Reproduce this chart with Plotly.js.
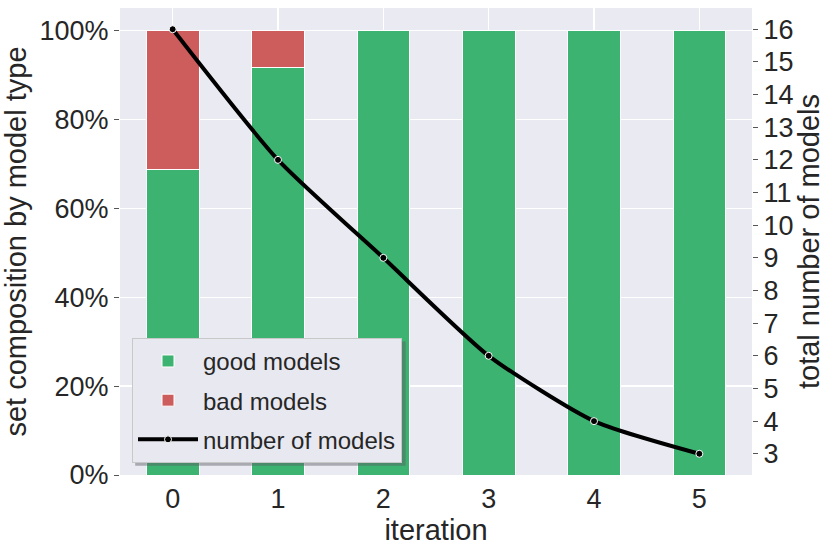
<!DOCTYPE html>
<html>
<head>
<meta charset="utf-8">
<script src="https://cdn.plot.ly/plotly-3.0.1.min.js"></script>
<style>
  html, body { margin: 0; padding: 0; background: #ffffff; }
  #plot { width: 831px; height: 557px; }
</style>
</head>
<body>
<div id="plot"></div>
<script>
// values
const iterations = [0, 1, 2, 3, 4, 5];
const goodPct = [68.75, 91.67, 100, 100, 100, 100];
const badPct = [31.25, 8.33, 0, 0, 0, 0];
const modelCount = [16, 12, 9, 6, 4, 3];
const pctTicks = [0, 20, 40, 60, 80, 100];
const pctLabels = ['0%', '20%', '40%', '60%', '80%', '100%'];
const countTicks = [3, 4, 5, 6, 7, 8, 9, 10, 11, 12, 13, 14, 15, 16];

const fontFamily = '"Liberation Sans", Arial, sans-serif';
const textColor = '#262626';

const traces = [
    {
        x: iterations, y: goodPct, type: 'bar', name: 'good models',
        legendgroup: 'good', width: 0.5,
        marker: { color: '#3cb371', line: { color: '#ffffff', width: 1 } },
        hoverinfo: 'skip'
    },
    {
        x: iterations, y: badPct, type: 'bar', name: 'bad models',
        legendgroup: 'bad', width: 0.5,
        marker: { color: '#cd5c5c', line: { color: '#ffffff', width: 1 } },
        hoverinfo: 'skip'
    },
    {
        x: iterations, y: modelCount, type: 'scatter', mode: 'lines+markers',
        name: 'number of models', legendgroup: 'count', yaxis: 'y2',
        line: { color: '#000000', width: 4, shape: 'spline', smoothing: 0.6 },
        marker: { color: '#000000', size: 7, line: { color: '#ffffff', width: 1 } },
        hoverinfo: 'skip'
    }
];

const layout = {
    width: 831,
    height: 557,
    paper_bgcolor: '#ffffff',
    plot_bgcolor: '#eaeaf2',
    font: { family: fontFamily, color: textColor, size: 27 },
    margin: { t: 8, r: 79, b: 82, l: 120 },
    barmode: 'stack',
    showlegend: true,
    xaxis: {
        range: [-0.5, 5.5],
        tickvals: iterations,
        ticktext: iterations.map(String),
        showgrid: true, gridcolor: '#ffffff', gridwidth: 1.2,
        zeroline: false, showline: false,
        ticks: '', ticklabelstandoff: 5,
        tickfont: { size: 27 },
        title: { text: 'iteration', font: { size: 29 }, standoff: 6 },
        automargin: false
    },
    yaxis: {
        range: [0, 105],
        tickvals: pctTicks,
        ticktext: pctLabels,
        showgrid: true, gridcolor: '#ffffff', gridwidth: 1.2,
        zeroline: false, showline: false,
        ticks: 'outside', ticklen: 5, tickwidth: 1, tickcolor: '#555555',
        tickfont: { size: 27 },
        title: { text: 'set composition by model type', font: { size: 29 }, standoff: 6 },
        automargin: false
    },
    yaxis2: {
        overlaying: 'y', side: 'right',
        range: [2.35, 16.65],
        tickvals: countTicks,
        showgrid: false, zeroline: false, showline: false,
        ticks: 'outside', ticklen: 5, tickwidth: 1, tickcolor: '#555555',
        tickfont: { size: 27 },
        title: { text: 'total number of models', font: { size: 29 }, standoff: 4 },
        automargin: false
    },
    legend: {
        x: 0.019, y: 0.026, xanchor: 'left', yanchor: 'bottom',
        bgcolor: '#e8e8f0',
        bordercolor: '#c8c8c8', borderwidth: 1,
        font: { size: 24, color: textColor },
        traceorder: 'grouped', tracegroupgap: 5,
        itemwidth: 60
    },
    // soft drop shadow behind the legend box, like the matplotlib one
    shapes: [{
        type: 'rect', xref: 'paper', yref: 'paper', layer: 'above',
        x0: 0.024, x1: 0.452, y0: 0.020, y1: 0.286,
        fillcolor: 'rgba(90,90,100,0.45)', line: { width: 0 }
    }]
};

Plotly.newPlot('plot', traces, layout, { displayModeBar: false, staticPlot: true });
</script>
</body>
</html>
